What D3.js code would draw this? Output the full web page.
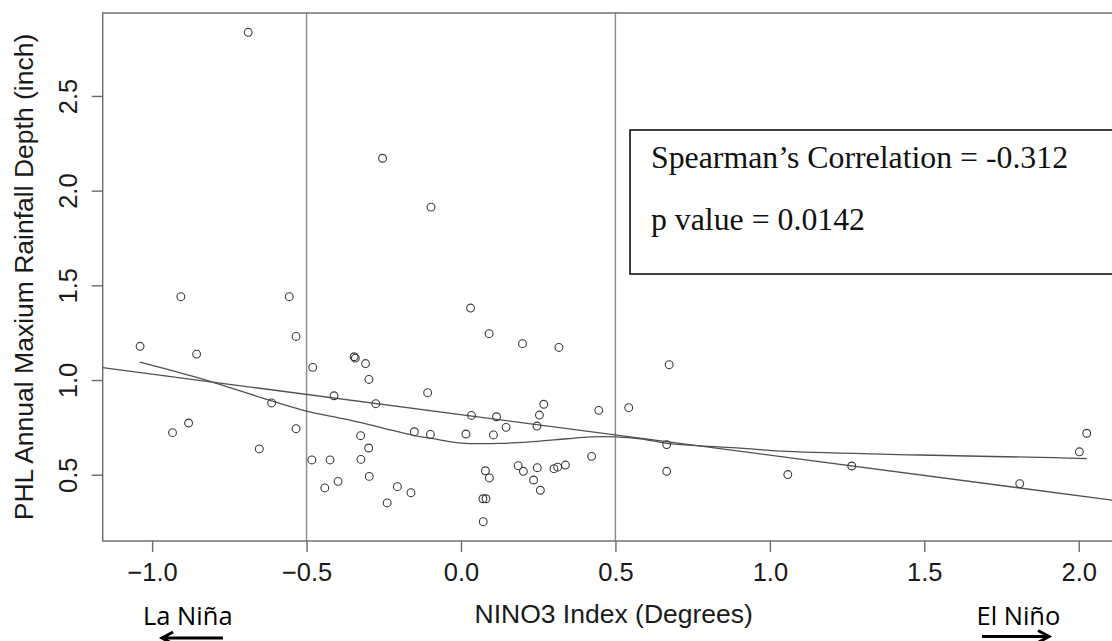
<!DOCTYPE html>
<html>
<head>
<meta charset="utf-8">
<script src="https://cdn.jsdelivr.net/npm/d3@7"></script>
<style>
  html, body { margin: 0; padding: 0; background: #fff; overflow: hidden; }
  svg { display: block; }
</style>
</head>
<body>
<svg id="chart" width="1112" height="641"></svg>
<script>
// ---- data ----
const ninoIndex = [-0.689,-0.254,-0.097,0.031,-0.907,-0.556,-1.039,-0.856,-0.534,-0.480,
  -0.346,-0.342,-0.309,-0.298,-0.411,-0.276,-0.613,-0.934,-0.882,-0.534,
  -0.653,-0.325,-0.299,-0.483,-0.424,-0.324,-0.297,-0.441,-0.398,-0.239,
  -0.206,-0.162,0.091,0.199,0.317,0.674,-0.108,0.268,0.254,0.034,
  0.115,0.446,0.543,0.246,0.146,-0.151,-0.099,0.016,0.105,0.666,
  0.423,0.185,0.202,0.247,0.338,0.313,0.301,0.079,0.092,0.235,
  0.257,0.666,0.071,0.081,0.072,1.058,1.265,1.809,2.002,2.026];
const rainfallDepth = [2.836,2.171,1.913,1.380,1.440,1.440,1.178,1.137,1.230,1.067,
  1.123,1.116,1.087,1.003,0.917,0.875,0.879,0.722,0.773,0.743,
  0.636,0.706,0.641,0.578,0.578,0.581,0.491,0.430,0.465,0.351,
  0.437,0.405,1.245,1.192,1.172,1.081,0.933,0.872,0.815,0.813,
  0.806,0.840,0.854,0.757,0.750,0.727,0.713,0.715,0.710,0.659,
  0.597,0.548,0.518,0.537,0.551,0.540,0.532,0.521,0.483,0.472,
  0.418,0.518,0.373,0.373,0.252,0.501,0.546,0.453,0.621,0.719];

// linear fit
const lmIntercept = 0.817;
const lmSlope = -0.214;

// lowess curve
const lowessX = [-1.04,-0.856,-0.613,-0.5,-0.37,-0.262,-0.154,-0.09,0.0,0.126,0.234,0.342,0.42,0.5,0.58,0.666,0.774,0.903,1.055,1.486,1.918,2.026];
const lowessY = [1.095,1.014,0.890,0.836,0.792,0.750,0.708,0.690,0.667,0.665,0.675,0.690,0.700,0.700,0.690,0.666,0.652,0.640,0.623,0.604,0.590,0.585];

const xTicks = [-1.0,-0.5,0.0,0.5,1.0,1.5,2.0];
const yTicks = [0.5,1.0,1.5,2.0,2.5];
const refLines = [-0.5, 0.5];

const xLabel = "NINO3 Index (Degrees)";
const yLabel = "PHL Annual Maxium Rainfall Depth (inch)";
const statLines = ["Spearman\u2019s Correlation = -0.312", "p value = 0.0142"];

// ---- layout ----
const plot = { left: 102.7, right: 1126, top: 13, bottom: 541 };
const x = d3.scaleLinear().domain([-1.16, 2.153]).range([plot.left, plot.right]);
const y = d3.scaleLinear().domain([0.150, 2.938]).range([plot.bottom, plot.top]);

const svg = d3.select("#chart");
const boxColor = "#6a6a6a";

svg.append("defs").append("clipPath").attr("id", "clip")
  .append("rect").attr("x", plot.left).attr("y", plot.top)
  .attr("width", plot.right - plot.left).attr("height", plot.bottom - plot.top);

// reference vertical lines
svg.selectAll("line.ref").data(refLines).enter().append("line")
  .attr("class", "ref")
  .attr("x1", d => x(d)).attr("x2", d => x(d))
  .attr("y1", plot.top).attr("y2", plot.bottom)
  .attr("stroke", "#8a8a8a").attr("stroke-width", 1.4);

// plot box
svg.append("rect")
  .attr("x", plot.left).attr("y", plot.top)
  .attr("width", plot.right - plot.left).attr("height", plot.bottom - plot.top)
  .attr("fill", "none").attr("stroke", boxColor).attr("stroke-width", 1.4);

// axes
const xAxis = svg.append("g").attr("transform", `translate(0,${plot.bottom})`)
  .call(d3.axisBottom(x).tickValues(xTicks).tickFormat(d3.format(".1f")).tickSize(11).tickPadding(6));
xAxis.select(".domain").remove();
xAxis.selectAll("line").attr("stroke", boxColor).attr("stroke-width", 1.4);
xAxis.selectAll("text").attr("font-family", "'Liberation Sans', Arial, sans-serif")
  .attr("font-size", 25.5).attr("fill", "#1a1a1a").attr("dy", null).attr("y", 40);

const yAxis = svg.append("g").attr("transform", `translate(${plot.left},0)`)
  .call(d3.axisLeft(y).tickValues(yTicks).tickFormat(d3.format(".1f")).tickSize(11));
yAxis.select(".domain").remove();
yAxis.selectAll("line").attr("stroke", boxColor).attr("stroke-width", 1.4);
yAxis.selectAll("text")
  .attr("font-family", "'Liberation Sans', Arial, sans-serif")
  .attr("font-size", 25.5).attr("fill", "#1a1a1a")
  .attr("x", null).attr("dy", null)
  .attr("text-anchor", "middle")
  .attr("transform", `translate(${77 - plot.left},0) rotate(-90)`);

// regression line
const g = svg.append("g").attr("clip-path", "url(#clip)");
const xd = x.domain();
g.append("line")
  .attr("x1", x(xd[0])).attr("y1", y(lmIntercept + lmSlope * xd[0]))
  .attr("x2", x(xd[1])).attr("y2", y(lmIntercept + lmSlope * xd[1]))
  .attr("stroke", "#505050").attr("stroke-width", 1.3);

// lowess curve
const lowessData = lowessX.map((v, i) => [v, lowessY[i]]);
g.append("path").datum(lowessData)
  .attr("d", d3.line().x(d => x(d[0])).y(d => y(d[1])).curve(d3.curveCatmullRom.alpha(0.5)))
  .attr("fill", "none").attr("stroke", "#505050").attr("stroke-width", 1.3);

// points
const pts = ninoIndex.map((v, i) => ({ x: v, y: rainfallDepth[i] }));
g.selectAll("circle").data(pts).enter().append("circle")
  .attr("cx", d => x(d.x)).attr("cy", d => y(d.y)).attr("r", 3.9)
  .attr("fill", "none").attr("stroke", "#3a3a3a").attr("stroke-width", 1.1);

// stats box
svg.append("rect").attr("x", 630).attr("y", 130).attr("width", 520).attr("height", 144)
  .attr("fill", "#fff").attr("stroke", "#111").attr("stroke-width", 1.6);
svg.selectAll("text.stat").data(statLines).enter().append("text")
  .attr("class", "stat")
  .attr("x", 651).attr("y", (d, i) => 167.5 + i * 62.5)
  .attr("font-family", "'Liberation Serif', 'Times New Roman', serif")
  .attr("font-size", 31.8).attr("fill", "#111").text(d => d);

// axis titles
svg.append("text").attr("x", 613.7).attr("y", 623)
  .attr("text-anchor", "middle")
  .attr("font-family", "'Liberation Sans', Arial, sans-serif")
  .attr("font-size", 26.5).attr("fill", "#1a1a1a").text(xLabel);
svg.append("text").attr("transform", `translate(33,${(plot.top + plot.bottom) / 2}) rotate(-90)`)
  .attr("text-anchor", "middle")
  .attr("font-family", "'Liberation Sans', Arial, sans-serif")
  .attr("font-size", 26.5).attr("fill", "#1a1a1a").text(yLabel);

// La Niña / El Niño annotations
const annoFont = "'Open Sans', 'Noto Sans', sans-serif";
svg.append("text").attr("x", 143).attr("y", 625)
  .attr("font-family", annoFont).attr("font-size", 25.5).attr("fill", "#000").text("La Niña");
svg.append("text").attr("x", 976.5).attr("y", 625)
  .attr("font-family", annoFont).attr("font-size", 25.5).attr("fill", "#000").text("El Niño");

function arrow(x1, x2, yy, dir) {
  // dir = -1 points left (head at x1), +1 points right (head at x2)
  const hx = dir < 0 ? x1 : x2;
  const p = d3.path();
  p.moveTo(x1, yy); p.lineTo(x2, yy);
  p.moveTo(hx - dir * 11, yy - 6); p.lineTo(hx, yy); p.lineTo(hx - dir * 11, yy + 6);
  svg.append("path").attr("d", p.toString()).attr("fill", "none")
    .attr("stroke", "#000").attr("stroke-width", 3).attr("stroke-linejoin", "miter");
}
arrow(162, 223, 638, -1);
arrow(982, 1049, 636.5, 1);
</script>
</body>
</html>
